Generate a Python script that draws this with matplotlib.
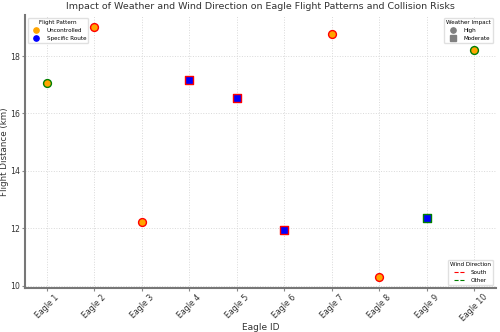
import numpy as np
import matplotlib
matplotlib.use("Agg")
import matplotlib.pyplot as plt
from matplotlib.lines import Line2D

# data
eagles = [f"Eagle {i}" for i in range(1, 11)]
distance = [17.06, 19.0, 12.23, 17.17, 16.55, 11.94, 18.75, 10.32, 12.37, 18.21]
pattern = ["Uncontrolled", "Uncontrolled", "Uncontrolled", "Specific Route", "Specific Route",
           "Specific Route", "Uncontrolled", "Uncontrolled", "Specific Route", "Uncontrolled"]
weather = ["High", "High", "High", "Moderate", "Moderate",
           "Moderate", "High", "High", "Moderate", "High"]
wind = ["Other", "South", "South", "South", "South",
        "South", "South", "South", "Other", "Other"]

pattern_colors = {"Uncontrolled": "orange", "Specific Route": "blue"}
weather_markers = {"High": "o", "Moderate": "s"}
wind_colors = {"South": "red", "Other": "green"}

fig = plt.figure(figsize=(5, 3.32), dpi=100)
ax = fig.add_axes([0.05, 0.133, 0.942, 0.822])

x = np.arange(len(eagles))
for xi, d, p, w, wd in zip(x, distance, pattern, weather, wind):
    ax.scatter(xi, d, s=32, c=pattern_colors[p], marker=weather_markers[w],
               edgecolors=wind_colors[wd], linewidths=1.0, zorder=6)

ax.set_xticks(x)
ax.set_xticklabels(eagles, rotation=45, fontsize=5.7)
ax.tick_params(axis="y", labelsize=5.6)
ax.tick_params(axis="both", length=2, color="#888888", pad=1.5, labelcolor="#333333")
ax.set_xlim(-0.457, 9.457)
ax.set_ylim(9.93, 19.43)
ax.set_yticks([10, 12, 14, 16, 18])

ax.grid(True, linestyle=":", color="#d9d9d9", linewidth=0.7)
ax.set_axisbelow(True)
for s in ["top", "right"]:
    ax.spines[s].set_visible(False)
for s in ["left", "bottom"]:
    ax.spines[s].set_color("#777777")
    ax.spines[s].set_linewidth(1.5)

ax.set_title("Impact of Weather and Wind Direction on Eagle Flight Patterns and Collision Risks",
             fontsize=6.8, color="#333333", pad=4)
ax.set_xlabel("Eagle ID", fontsize=6.5, color="#333333")
ax.set_ylabel("Flight Distance (km)", fontsize=6.3, color="#333333")
ax.yaxis.set_label_coords(-0.034, 0.5)
ax.xaxis.set_label_coords(0.5, -0.128)

leg_kw = dict(fontsize=4.1, title_fontsize=4.1, framealpha=0.9, edgecolor="#dddddd",
              handletextpad=0.9, borderpad=0.4, labelspacing=0.5)

h1 = [Line2D([], [], marker="o", linestyle="", color=pattern_colors[k], markersize=3.8, label=k)
      for k in ["Uncontrolled", "Specific Route"]]
leg1 = ax.legend(handles=h1, title="Flight Pattern", loc="upper left", **leg_kw)
ax.add_artist(leg1)

h2 = [Line2D([], [], marker=weather_markers[k], linestyle="", color="gray", markersize=3.8, label=k)
      for k in ["High", "Moderate"]]
leg2 = ax.legend(handles=h2, title="Weather Impact", loc="upper right", **leg_kw)
ax.add_artist(leg2)

h3 = [Line2D([], [], linestyle="--", color=wind_colors[k], linewidth=0.8, label=k)
      for k in ["South", "Other"]]
ax.legend(handles=h3, title="Wind Direction", loc="lower right", **leg_kw)

fig.savefig("out.png", dpi=100)
